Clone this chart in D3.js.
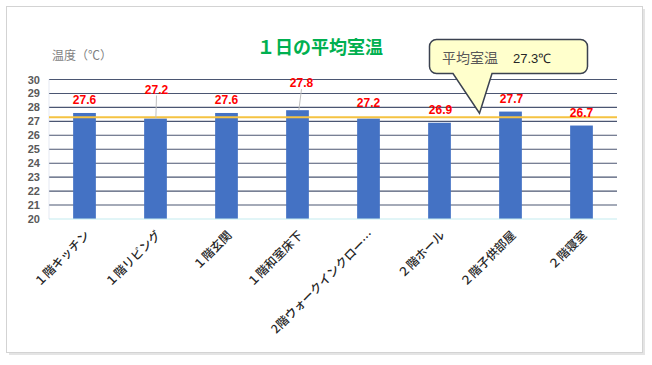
<!DOCTYPE html>
<html>
<head>
<meta charset="utf-8">
<script src="https://cdn.jsdelivr.net/npm/d3@7"></script>
<style>
  body { margin: 0; background: #fff; }
</style>
</head>
<body>
<div id="chart"></div>
<script>
// data
var rooms = ["１階キッチン", "１階リビング", "１階玄関", "１階和室床下",
  "2階ウォークインクロー…", "２階ホール", "２階子供部屋", "２階寝室"];
var temps = [27.6, 27.2, 27.6, 27.8, 27.2, 26.9, 27.7, 26.7];
var avgTemp = 27.3;
var yTicks = [20, 21, 22, 23, 24, 25, 26, 27, 28, 29, 30];

// hand-placed label offsets (dx, dy from the bar top), like the original sheet
var labelShift = [[0, -13], [1, -29], [0, -13], [4, -27], [0, -16], [1, -13], [1, -13], [0, -13]];

var jpFont = "'Noto Sans CJK JP', sans-serif";
var numFont = "'Liberation Sans', Arial, sans-serif";

var svgWidth = 652;
var svgHeight = 365;
var margin = { top: 79.5, right: 35, bottom: 146, left: 49 };
var width = svgWidth - margin.left - margin.right;
var height = svgHeight - margin.top - margin.bottom;

var svg = d3.select("#chart")
  .append("svg")
  .attr("width", svgWidth)
  .attr("height", svgHeight);

// frame with a soft shadow
svg.append("rect")
  .attr("x", 9).attr("y", 9).attr("width", 636).attr("height", 346)
  .attr("fill", "#e4e4e4");
svg.append("rect")
  .attr("x", 6.5).attr("y", 6.5).attr("width", 636).attr("height", 346)
  .attr("fill", "#fff").attr("stroke", "#d3d3d3");

var chartGroup = svg.append("g")
  .attr("transform", `translate(${margin.left}, ${margin.top})`);

var xScale = d3.scaleBand()
  .domain(rooms)
  .range([0, width])
  .paddingInner(0.68)
  .paddingOuter(0.34);

var yScale = d3.scaleLinear()
  .domain([20, 30])
  .range([height, 0]);

// gridlines
chartGroup.append("g")
  .selectAll("line")
  .data(yTicks.slice(1))
  .enter()
  .append("line")
  .attr("x1", 0).attr("x2", width)
  .attr("y1", d => yScale(d)).attr("y2", d => yScale(d))
  .attr("stroke", "#4b5672")
  .attr("stroke-width", 1.1);

// left dotted edge
chartGroup.append("line")
  .attr("x1", 0).attr("x2", 0).attr("y1", 0).attr("y2", height)
  .attr("stroke", "#c9d3e6").attr("stroke-dasharray", "1,1");

// y axis tick labels
var leftAxis = d3.axisLeft(yScale).tickValues(yTicks).tickSize(0).tickPadding(9);
var yAxis = chartGroup.append("g").call(leftAxis);
yAxis.select(".domain").remove();
yAxis.selectAll("text")
  .style("font-family", numFont)
  .attr("font-size", 11)
  .attr("font-weight", "bold")
  .attr("fill", "#595959");

// bars
chartGroup.selectAll(".bar")
  .data(temps)
  .enter()
  .append("rect")
  .attr("class", "bar")
  .attr("x", (d, i) => xScale(rooms[i]))
  .attr("y", d => yScale(d))
  .attr("width", xScale.bandwidth())
  .attr("height", d => height - yScale(d))
  .attr("fill", "#4472c4");

// bottom axis line
chartGroup.append("line")
  .attr("x1", 0).attr("x2", width)
  .attr("y1", height).attr("y2", height)
  .attr("stroke", "#c3ecef").attr("stroke-width", 1.2);

// average line
chartGroup.append("line")
  .attr("x1", 0).attr("x2", width)
  .attr("y1", yScale(avgTemp)).attr("y2", yScale(avgTemp))
  .attr("stroke", "#f5c342")
  .attr("stroke-width", 2);

// leader lines for labels pulled away from their bars
chartGroup.selectAll(".leader")
  .data(temps.map((d, i) => [d, i]).filter(p => labelShift[p[1]][1] < -20))
  .enter()
  .append("line")
  .attr("x1", p => xScale(rooms[p[1]]) + xScale.bandwidth() / 2 + labelShift[p[1]][0])
  .attr("x2", p => xScale(rooms[p[1]]) + xScale.bandwidth() / 2 + labelShift[p[1]][0] / 3)
  .attr("y1", p => yScale(p[0]) + labelShift[p[1]][1] + 6)
  .attr("y2", p => yScale(p[0]))
  .attr("stroke", "#bfbfbf")
  .attr("stroke-width", 1);

// data labels
chartGroup.selectAll(".vlabel")
  .data(temps)
  .enter()
  .append("text")
  .attr("class", "vlabel")
  .attr("x", (d, i) => xScale(rooms[i]) + xScale.bandwidth() / 2 + labelShift[i][0])
  .attr("y", (d, i) => yScale(d) + labelShift[i][1])
  .attr("dy", "0.35em")
  .attr("text-anchor", "middle")
  .style("font-family", numFont)
  .attr("font-size", 12)
  .attr("font-weight", "bold")
  .attr("fill", "#ff0000")
  .text(d => d.toFixed(1));

// x labels, rotated
chartGroup.selectAll(".xlabel")
  .data(rooms)
  .enter()
  .append("text")
  .attr("class", "xlabel")
  .attr("transform", d => `translate(${xScale(d) + xScale.bandwidth() / 2 + 6}, ${height + 17}) rotate(-45)`)
  .attr("text-anchor", "end")
  .style("font-family", jpFont)
  .attr("font-size", 12)
  .attr("font-weight", 500)
  .attr("fill", "#262626")
  .text(d => d);

// titles
svg.append("text")
  .attr("x", 320).attr("y", 54)
  .attr("text-anchor", "middle")
  .style("font-family", jpFont)
  .attr("font-size", 18)
  .attr("font-weight", "bold")
  .attr("fill", "#00b050")
  .text("１日の平均室温");

svg.append("text")
  .attr("x", 52).attr("y", 60)
  .style("font-family", jpFont)
  .attr("font-size", 12)
  .attr("fill", "#7f7f7f")
  .text("温度（℃）");

// callout for the average
var tipX = xScale(rooms[5]) + xScale.bandwidth() / 2 + 40 + margin.left;
var tipY = yScale(avgTemp) + margin.top - 4;
var bx0 = 429.5, bx1 = 587.5, by0 = 39.5, by1 = 73.5, r = 7;
var calloutPath = d3.path();
calloutPath.moveTo(bx0 + r, by0);
calloutPath.lineTo(bx1 - r, by0);
calloutPath.arcTo(bx1, by0, bx1, by0 + r, r);
calloutPath.lineTo(bx1, by1 - r);
calloutPath.arcTo(bx1, by1, bx1 - r, by1, r);
calloutPath.lineTo(492, by1);
calloutPath.lineTo(tipX, tipY);
calloutPath.lineTo(453, by1);
calloutPath.lineTo(bx0 + r, by1);
calloutPath.arcTo(bx0, by1, bx0, by1 - r, r);
calloutPath.lineTo(bx0, by0 + r);
calloutPath.arcTo(bx0, by0, bx0 + r, by0, r);
calloutPath.closePath();

svg.append("path")
  .attr("d", calloutPath.toString())
  .attr("fill", "#ffffcc")
  .attr("stroke", "#3b4250")
  .attr("stroke-width", 1.5);

svg.append("text")
  .attr("x", 442).attr("y", 63)
  .style("font-family", jpFont)
  .attr("font-size", 14)
  .attr("fill", "#595959")
  .text("平均室温");

svg.append("text")
  .attr("x", 513).attr("y", 63)
  .style("font-family", numFont)
  .attr("font-size", 13)
  .attr("fill", "#262626")
  .text(avgTemp.toFixed(1) + "℃");
</script>
</body>
</html>
